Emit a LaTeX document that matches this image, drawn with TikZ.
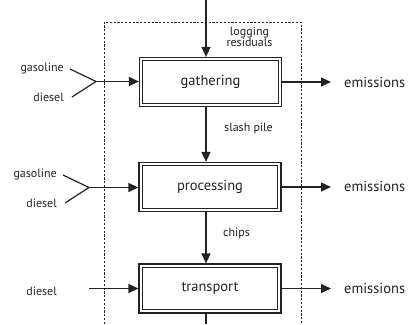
\documentclass[tikz,border=0pt]{standalone}
\usepackage{fontspec}
\setmainfont{PT Sans}
\usetikzlibrary{arrows.meta,calc}
\definecolor{ink}{HTML}{222222}
\begin{document}
\begin{tikzpicture}[x=1pt,y=-1pt,
  flow/.style={draw=ink,line width=1.3pt,-{Triangle[length=10pt,width=9pt]}},
  plain/.style={draw=ink,line width=1.2pt},
  stage/.style={draw=ink,line width=1.2pt,
    minimum width=142pt,minimum height=49pt,inner sep=0pt,
    font=\fontsize{14.5}{16}\selectfont,text=ink},
  inner/.style={draw=ink,line width=1.2pt},
  lbl/.style={font=\fontsize{12}{13}\selectfont,text=ink,inner sep=0pt},
  em/.style={font=\fontsize{14.5}{16}\selectfont,text=ink,inner sep=0pt,anchor=west},
  bound/.style={draw=ink,line width=1pt,dash pattern=on 2.2pt off 1.6pt}]
\useasboundingbox (0,0) rectangle (409,324);
% system boundary
\coordinate (bl) at (104,324);
\coordinate (tl) at (104,22);
\coordinate (tr) at (301,22);
\coordinate (br) at (301,324);
\draw[bound] (bl) -- (tl) -- (tr) -- (br);
% stages
\node[stage] (g) at (210.5,82) {gathering};
\node[stage] (p) at (210,187) {processing};
\node[stage] (t) at (210,288.5) {transport};
\foreach \n in {g,p,t}
  \draw[inner] ($(\n.south west)+(3.8,-3.8)$) rectangle ($(\n.north east)+(-3.8,3.8)$);
% vertical flow
\coordinate (top) at (206,0);
\coordinate (bot) at (206,324);
\draw[flow] (top) -- (top |- g.north);
\draw[flow] (g.south -| top) -- (p.north -| top);
\draw[flow] (p.south -| top) -- (t.north -| top);
\draw[plain] (t.south -| top) -- (bot);
\node[lbl,align=center] (lr) at (249.5,37) {logging\\[-2pt]residuals};
\node[lbl,anchor=west] (sp) at (224,128) {slash pile};
\node[lbl,anchor=west] (ch) at (223,233) {chips};
% emissions
\coordinate (a1) at (331,82);
\coordinate (a2) at (331,187);
\coordinate (a3) at (331,288.5);
\node[em] (e1) at (344,82) {emissions};
\node[em] (e2) at (344,186) {emissions};
\node[em] (e3) at (344,288) {emissions};
\draw[flow] (g.east) -- (a1);
\draw[flow] (p.east) -- (a2);
\draw[flow] (t.east) -- (a3);
% inputs gathering
\node[lbl,anchor=east] (g1) at (64,69) {gasoline};
\node[lbl,anchor=east] (d1) at (64,97) {diesel};
\coordinate (j1) at (96,81.5);
\draw[plain] ($(g1.east)+(6,0)$) -- (j1) -- ($(d1.east)+(8,0)$);
\draw[flow] (j1) -- (g.west |- j1);
% inputs processing
\node[lbl,anchor=east] (g2) at (57,175) {gasoline};
\node[lbl,anchor=east] (d2) at (57,203) {diesel};
\coordinate (j2) at (89,187.5);
\draw[plain] ($(g2.east)+(6,0)$) -- (j2) -- ($(d2.east)+(8,0)$);
\draw[flow] (j2) -- (p.west |- j2);
% inputs transport
\node[lbl,anchor=east] (d3) at (57,291) {diesel};
\coordinate (j3) at (89,288.5);
\draw[flow] (j3) -- (t.west |- j3);
\end{tikzpicture}
\end{document}
